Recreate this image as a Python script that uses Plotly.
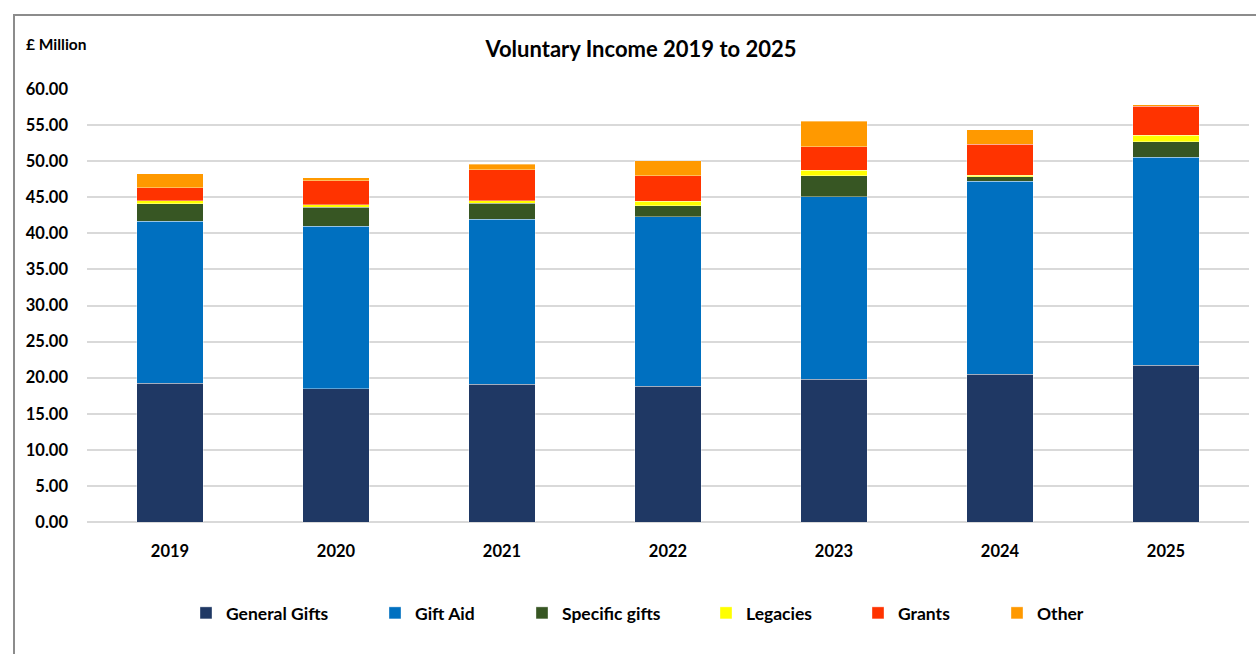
import plotly.graph_objects as go

years = ["2019", "2020", "2021", "2022", "2023", "2024", "2025"]
general_gifts = [19.20, 18.47, 19.08, 18.80, 19.77, 20.46, 21.71]
gift_aid = [22.46, 22.50, 22.90, 23.50, 25.30, 26.74, 28.82]
specific_gifts = [2.44, 2.63, 2.18, 1.53, 2.91, 0.65, 2.17]
legacies = [0.42, 0.37, 0.36, 0.65, 0.75, 0.18, 0.92]
grants = [1.80, 3.32, 4.30, 3.50, 3.27, 4.30, 3.98]
other = [1.94, 0.41, 0.74, 2.08, 3.56, 2.03, 0.22]

series = [
    ("General Gifts", general_gifts, "#1F3864"),
    ("Gift Aid", gift_aid, "#0070C0"),
    ("Specific gifts", specific_gifts, "#375623"),
    ("Legacies", legacies, "#FFFF00"),
    ("Grants", grants, "#FF3300"),
    ("Other", other, "#FF9900"),
]
# left pixel of each legend swatch in the reference
legend_px = [205, 394, 541, 725, 877, 1016]

FONT = "Lato"
PL, PW, PT, PH = 87, 1162, 89, 433

fig = go.Figure()
legends = {}
for i, (name, vals, col) in enumerate(series):
    lname = "legend" if i == 0 else f"legend{i+1}"
    fig.add_trace(go.Bar(
        x=years, y=vals, name="<b>" + name + "</b>", legend=lname,
        marker=dict(color=col, line=dict(color="rgba(255,255,255,0.6)", width=0.6)),
        width=0.4,
    ))
    legends[lname] = dict(
        orientation="h", x=(legend_px[i] - 5 - 14 - PL) / PW, xanchor="left",
        y=-(613 - 522) / PH, yanchor="middle",
        font=dict(size=17.5, family=FONT, color="black"), itemwidth=30,
        bgcolor="rgba(0,0,0,0)", borderwidth=0,
    )

fig.update_layout(
    barmode="stack",
    width=1256, height=654,
    margin=dict(l=PL, r=1256 - PL - PW, t=PT, b=654 - PT - PH),
    paper_bgcolor="white", plot_bgcolor="white",
    font=dict(family=FONT, color="black"),
    title=dict(text="<b>Voluntary Income 2019 to 2025</b>", x=641 / 1256, xanchor="center",
               y=1 - 49 / 654, yanchor="middle", font=dict(size=22, family=FONT, color="black")),
    xaxis=dict(tickfont=dict(size=16.5, family=FONT), showgrid=False, showline=False,
               ticks="", ticklabelstandoff=17, tickprefix="<b>", ticksuffix="</b>"),
    yaxis=dict(range=[0, 60], dtick=5, tickformat=".2f", tickfont=dict(size=16.5, family=FONT),
               showgrid=True, gridcolor="#D9D9D9", gridwidth=1.5, zeroline=True,
               zerolinecolor="#D9D9D9", zerolinewidth=1.5, ticks="", ticklabelstandoff=18,
               tickprefix="<b>", ticksuffix="</b>"),
    showlegend=True,
    **legends,
)

fig.add_annotation(text="<b>£ Million</b>", xref="paper", yref="paper",
                   x=(24 - PL) / PW, y=(522 - 44) / PH, xanchor="left", yanchor="middle",
                   showarrow=False, font=dict(size=15.5, family=FONT, color="black"))

fig.add_shape(type="rect", xref="paper", yref="paper",
              x0=(14 - PL) / PW, x1=1.2, y0=-0.6, y1=(522 - 15) / PH,
              line=dict(color="#8C8C8C", width=2), fillcolor="rgba(0,0,0,0)", layer="below")

fig.write_html("out.html")
